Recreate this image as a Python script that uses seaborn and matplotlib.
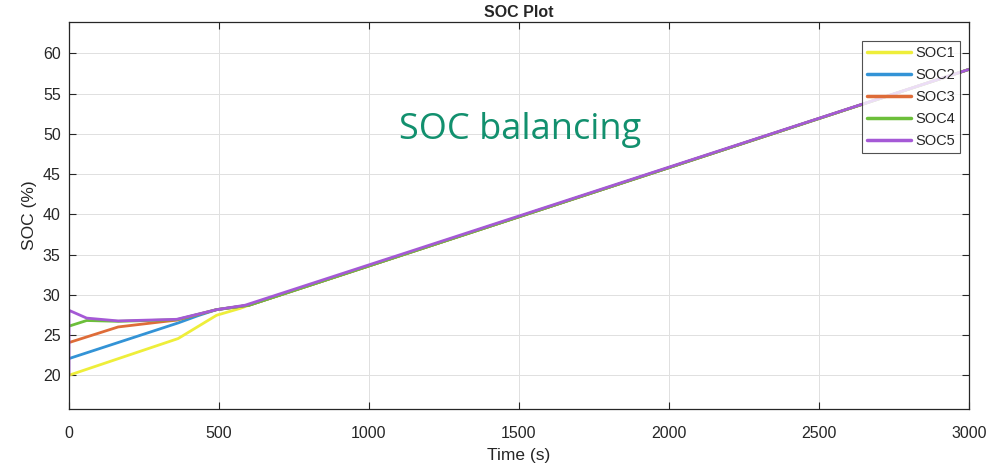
import matplotlib
matplotlib.use("Agg")
import matplotlib.pyplot as plt
import numpy as np
import pandas as pd
import seaborn as sns

# State-of-charge traces (time in s, SOC in %)
t_soc1 = [0, 364, 492, 570, 600]
soc1 = [20.0, 24.56, 27.45, 28.3, 28.7]

t_soc2 = [0, 364, 430, 492, 600]
soc2 = [22.07, 26.5, 27.4, 28.15, 28.7]

t_soc3 = [0, 164, 300, 359, 492, 600]
soc3 = [24.06, 26.0, 26.6, 26.85, 28.15, 28.7]

t_soc4 = [0, 59, 164, 359, 492, 600]
soc4 = [26.1, 26.8, 26.7, 26.9, 28.15, 28.7]

t_soc5 = [0, 0, 59, 164, 359, 492, 587, 3000]
soc5 = [20.0, 28.07, 27.1, 26.75, 26.95, 28.15, 28.7, 58.0]

# After balancing every cell follows the common trace
t_common = [600, 3000]
soc_common = [28.7, 58.0]

names = ["SOC1", "SOC2", "SOC3", "SOC4", "SOC5"]
colors = ["#eeee3a", "#3393d6", "#de6c38", "#6cbf3a", "#a559d6"]

series = [
    (t_soc1 + t_common[1:], soc1 + soc_common[1:]),
    (t_soc2 + t_common[1:], soc2 + soc_common[1:]),
    (t_soc3 + t_common[1:], soc3 + soc_common[1:]),
    (t_soc4 + t_common[1:], soc4 + soc_common[1:]),
    (t_soc5, soc5),
]

frames = []
for name, (t, s) in zip(names, series):
    frames.append(pd.DataFrame({"Time": t, "SOC": s, "Cell": name}))
df = pd.concat(frames, ignore_index=True)

sns.set_theme(style="white")
plt.rcParams["font.family"] = ["Liberation Sans Narrow", "Liberation Sans", "DejaVu Sans"]

fig = plt.figure(figsize=(10.07, 4.68), dpi=100)
ax = fig.add_axes([0.0685, 0.126, 0.8935, 0.827])

sns.lineplot(data=df, x="Time", y="SOC", hue="Cell", palette=colors,
             hue_order=names, sort=False, estimator=None, units="Cell",
             linewidth=2.0, ax=ax, legend=True)

ax.set_xlim(0, 3000)
ax.set_ylim(15.8, 63.9)
ax.set_xticks(np.arange(0, 3001, 500))
ax.set_yticks(np.arange(20, 61, 5))
ax.grid(True, color="#e0e0e0", linewidth=0.7)
ax.set_axisbelow(True)
for sp in ax.spines.values():
    sp.set_color("#262626")
    sp.set_linewidth(0.9)
ax.tick_params(direction="in", length=5, width=0.8, colors="#262626",
               labelsize=11.5, top=True, right=True, bottom=True, left=True,
               labelcolor="#262626")
ax.tick_params(axis="x", pad=12)
ax.tick_params(axis="y", pad=6)

ax.set_xlabel("Time (s)", fontsize=12.5, color="#262626", labelpad=5)
ax.set_ylabel("SOC (%)", fontsize=12.5, color="#262626", labelpad=4)
ax.set_title("SOC Plot", fontsize=11.5, fontweight="bold", color="#262626", pad=3.5)

leg = ax.legend(loc="upper right", bbox_to_anchor=(0.99, 0.952), fontsize=10.5,
                frameon=True, fancybox=False, edgecolor="#262626",
                handlelength=3.0, handletextpad=0.3, borderpad=0.35,
                labelspacing=0.55, borderaxespad=0)
leg.get_frame().set_linewidth(0.8)
for line in leg.get_lines():
    line.set_linewidth(2.5)

ax.text(0.501, 0.72, "SOC balancing", transform=ax.transAxes, ha="center",
        va="center", fontsize=26, color="#12906e", family=["Open Sans", "DejaVu Sans"])

fig.savefig("out.png", dpi=100, facecolor="white")
